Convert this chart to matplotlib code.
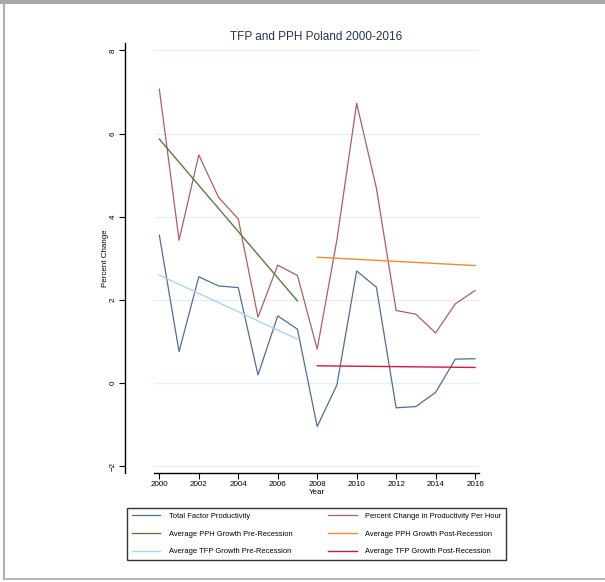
import matplotlib
matplotlib.use('Agg')
import matplotlib.pyplot as plt
from matplotlib.patches import Rectangle
from matplotlib.lines import Line2D

years = list(range(2000, 2017))
tfp = [3.56, 0.76, 2.56, 2.34, 2.30, 0.20, 1.62, 1.30, -1.04, -0.04,
       2.70, 2.31, -0.59, -0.56, -0.22, 0.58, 0.59]
pph = [7.07, 3.44, 5.49, 4.47, 3.95, 1.59, 2.84, 2.59, 0.82, 3.45,
       6.73, 4.69, 1.75, 1.66, 1.21, 1.91, 2.23]

# fitted trend lines, start and end of each period
pre_years = [2000, 2007]
post_years = [2008, 2016]
pph_pre = [5.87, 1.98]
tfp_pre = [2.60, 1.06]
pph_post = [3.03, 2.83]
tfp_post = [0.42, 0.38]

plt.rcParams['font.family'] = ['Liberation Sans', 'DejaVu Sans']

W, H = 605, 582
fig = plt.figure(figsize=(W / 100, H / 100), dpi=100)
fig.patch.set_facecolor('white')

# page frame
fig.add_artist(Rectangle((0, 1 - 4 / H), 1, 4 / H, transform=fig.transFigure,
                         facecolor='#a8a8a8', edgecolor='none'))
fig.add_artist(Line2D([3.5 / W, 3.5 / W], [3 / H, 1 - 4 / H], transform=fig.transFigure,
                      color='#b0b0b0', lw=1.5))
fig.add_artist(Line2D([3.5 / W, 1], [3 / H, 3 / H], transform=fig.transFigure,
                      color='#b8b8b8', lw=1.5))

ax = fig.add_axes([154 / W, 1 - 472.7 / H, 325 / W, 429.7 / H])

l_tfp, = ax.plot(years, tfp, color='#4f6f92', lw=0.9)
l_pph, = ax.plot(years, pph, color='#ad5e66', lw=0.9)
l_pph_pre, = ax.plot(pre_years, pph_pre, color='#5d7b3c', lw=1.0)
l_pph_post, = ax.plot(post_years, pph_post, color='#f08c2a', lw=1.0)
l_tfp_pre, = ax.plot(pre_years, tfp_pre, color='#a9d6ea', lw=1.0)
l_tfp_post, = ax.plot(post_years, tfp_post, color='#d3173d', lw=1.0)

ax.set_xlim(1999.73, 2016.2)
ax.set_ylim(-2.15, 8.18)
ax.set_xticks(range(2000, 2017, 2))
ax.set_yticks([-2, 0, 2, 4, 6, 8])
ax.grid(axis='y', color='#e6eff1', lw=0.9)
ax.set_axisbelow(True)

for s in ['top', 'right']:
    ax.spines[s].set_visible(False)
ax.spines['left'].set_position(('outward', 21))
ax.spines['left'].set_linewidth(1.0)
ax.spines['bottom'].set_linewidth(1.0)
ax.tick_params(axis='both', labelsize=5.8, length=4, width=0.8, pad=2)
for lab in ax.get_yticklabels():
    lab.set_rotation(90)
    lab.set_va('center')

ax.set_title('TFP and PPH Poland 2000-2016', fontsize=8.5, color='#23344d', pad=2.5)
ax.set_xlabel('Year', fontsize=5.8, labelpad=1)
ax.set_ylabel('Percent Change', fontsize=5.8, labelpad=0)

# two columns filled column by column
handles = [l_tfp, l_pph_pre, l_tfp_pre, l_pph, l_pph_post, l_tfp_post]
labels = ['Total Factor Productivity',
          'Average PPH Growth Pre-Recession',
          'Average TFP Growth Pre-Recession',
          'Percent Change in Productivity Per Hour',
          'Average PPH Growth Post-Recession',
          'Average TFP Growth Post-Recession']
leg = fig.legend(handles, labels, ncol=2, loc='lower left',
                 bbox_to_anchor=(127.3 / W, 1 - 560 / H, (506 - 127.3) / W, 55 / H),
                 mode='expand', fontsize=5.45, frameon=True, fancybox=False,
                 edgecolor='black', handlelength=3.7, handletextpad=1.15,
                 labelspacing=1.37, borderpad=0.6, borderaxespad=0,
                 columnspacing=2.0)
leg.get_frame().set_linewidth(1.0)

fig.savefig('out.png', dpi=100)
